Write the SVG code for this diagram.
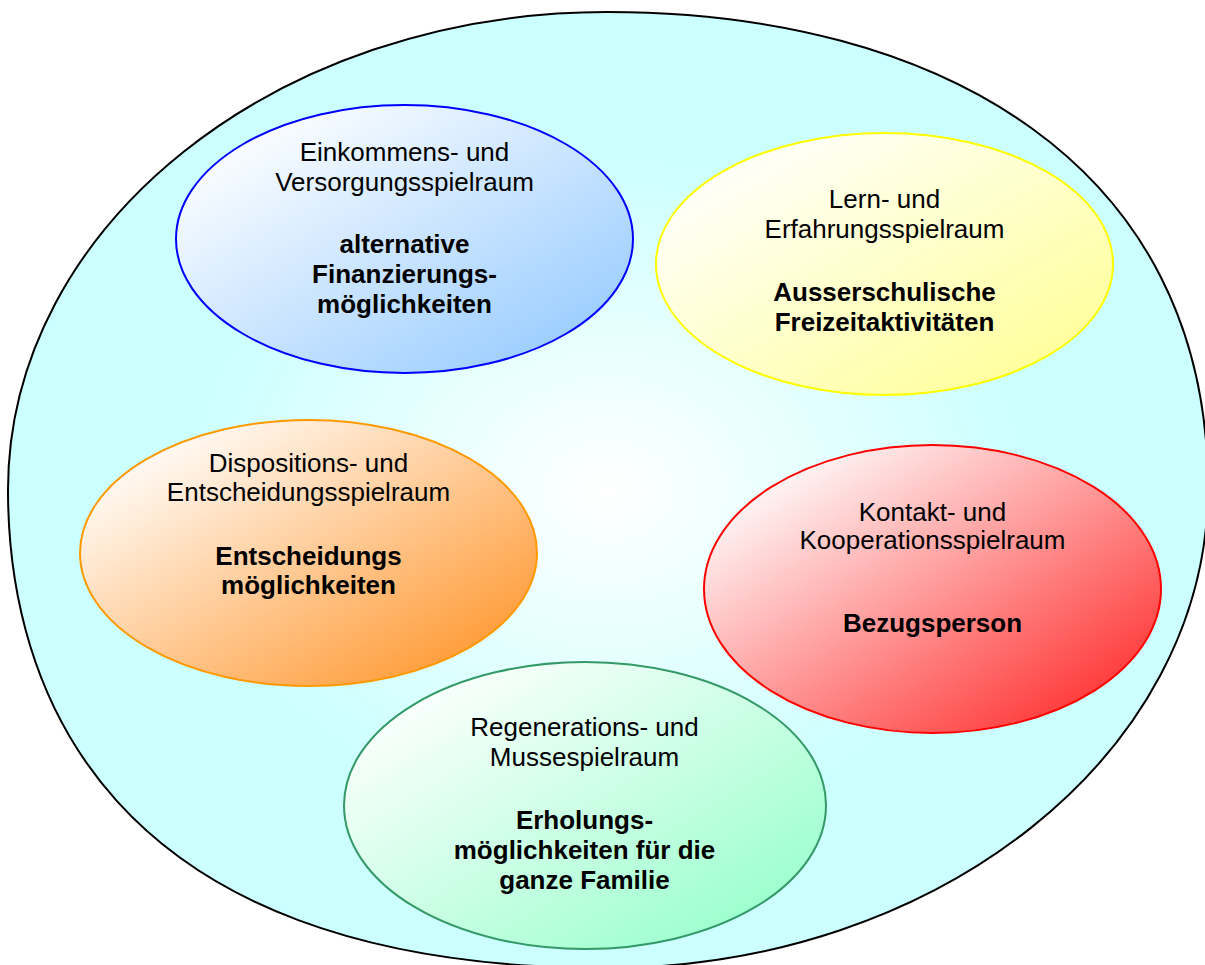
<svg xmlns="http://www.w3.org/2000/svg" width="1205" height="965" viewBox="0 0 1205 965">
  <defs>
    <radialGradient id="gBig" cx="0.5" cy="0.5" r="0.5">
      <stop offset="0" stop-color="#FFFFFF"/>
      <stop offset="0.7" stop-color="#CCFFFF"/>
      <stop offset="1" stop-color="#CCFFFF"/>
    </radialGradient>
    <linearGradient id="gBlue" x1="0" y1="0" x2="1" y2="1">
      <stop offset="0.1" stop-color="#FFFFFF"/>
      <stop offset="0.9" stop-color="#99CCFF"/>
    </linearGradient>
    <linearGradient id="gYellow" x1="0" y1="0" x2="1" y2="1">
      <stop offset="0.1" stop-color="#FFFFFF"/>
      <stop offset="0.9" stop-color="#FFFF99"/>
    </linearGradient>
    <linearGradient id="gOrange" x1="0" y1="0" x2="1" y2="1">
      <stop offset="0.1" stop-color="#FFFFFF"/>
      <stop offset="0.9" stop-color="#FF9933"/>
    </linearGradient>
    <linearGradient id="gRed" x1="0" y1="0" x2="1" y2="1">
      <stop offset="0.1" stop-color="#FFFFFF"/>
      <stop offset="0.9" stop-color="#FF3333"/>
    </linearGradient>
    <linearGradient id="gGreen" x1="0" y1="0" x2="1" y2="1">
      <stop offset="0.1" stop-color="#FFFFFF"/>
      <stop offset="0.9" stop-color="#99FFCC"/>
    </linearGradient>
  </defs>
  <style>
    text { font-family: "Liberation Sans", Arial, sans-serif; font-size: 26px; fill: #000000; text-anchor: middle; }
    .b { font-weight: bold; }
    .node { stroke-width: 2; }
  </style>
  <rect x="0" y="0" width="1205" height="965" fill="#FFFFFF"/>
  <g id="outer">
    <path d="M 8 490 C 8 226 276 12 607 12 C 939 12 1208 164 1208 488 C 1208 753 938 968 606 968 C 98 968 8 681 8 490 Z" fill="url(#gBig)" stroke="#000000" stroke-width="2"/>
  </g>
  <g id="connectors"></g>
  <g id="node-einkommen">
    <ellipse class="node" cx="404.5" cy="239" rx="228.5" ry="134" fill="url(#gBlue)" stroke="#0000FF"/>
    <text x="404.5" y="161">Einkommens- und</text>
    <text x="404.5" y="191">Versorgungsspielraum</text>
    <text class="b" x="404.5" y="253">alternative</text>
    <text class="b" x="404.5" y="283">Finanzierungs-</text>
    <text class="b" x="404.5" y="313">möglichkeiten</text>
  </g>
  <g id="node-lern">
    <ellipse class="node" cx="884.5" cy="264" rx="228.5" ry="131" fill="url(#gYellow)" stroke="#FFFF00"/>
    <text x="884.5" y="208">Lern- und</text>
    <text x="884.5" y="238">Erfahrungsspielraum</text>
    <text class="b" x="884.5" y="301">Ausserschulische</text>
    <text class="b" x="884.5" y="331">Freizeitaktivitäten</text>
  </g>
  <g id="node-dispositions">
    <ellipse class="node" cx="308.5" cy="553" rx="228.5" ry="133" fill="url(#gOrange)" stroke="#FF9900"/>
    <text x="308.5" y="472">Dispositions- und</text>
    <text x="308.5" y="501">Entscheidungsspielraum</text>
    <text class="b" x="308.5" y="565">Entscheidungs</text>
    <text class="b" x="308.5" y="594">möglichkeiten</text>
  </g>
  <g id="node-kontakt">
    <ellipse class="node" cx="932.5" cy="589" rx="228.5" ry="144" fill="url(#gRed)" stroke="#FF0000"/>
    <text x="932.5" y="521">Kontakt- und</text>
    <text x="932.5" y="549">Kooperationsspielraum</text>
    <text class="b" x="932.5" y="632">Bezugsperson</text>
  </g>
  <g id="node-regeneration">
    <ellipse class="node" cx="585" cy="805.5" rx="241" ry="143.5" fill="url(#gGreen)" stroke="#339966"/>
    <text x="584.5" y="736">Regenerations- und</text>
    <text x="584.5" y="766">Mussespielraum</text>
    <text class="b" x="584.5" y="829">Erholungs-</text>
    <text class="b" x="584.5" y="859">möglichkeiten für die</text>
    <text class="b" x="584.5" y="889">ganze Familie</text>
  </g>
</svg>
